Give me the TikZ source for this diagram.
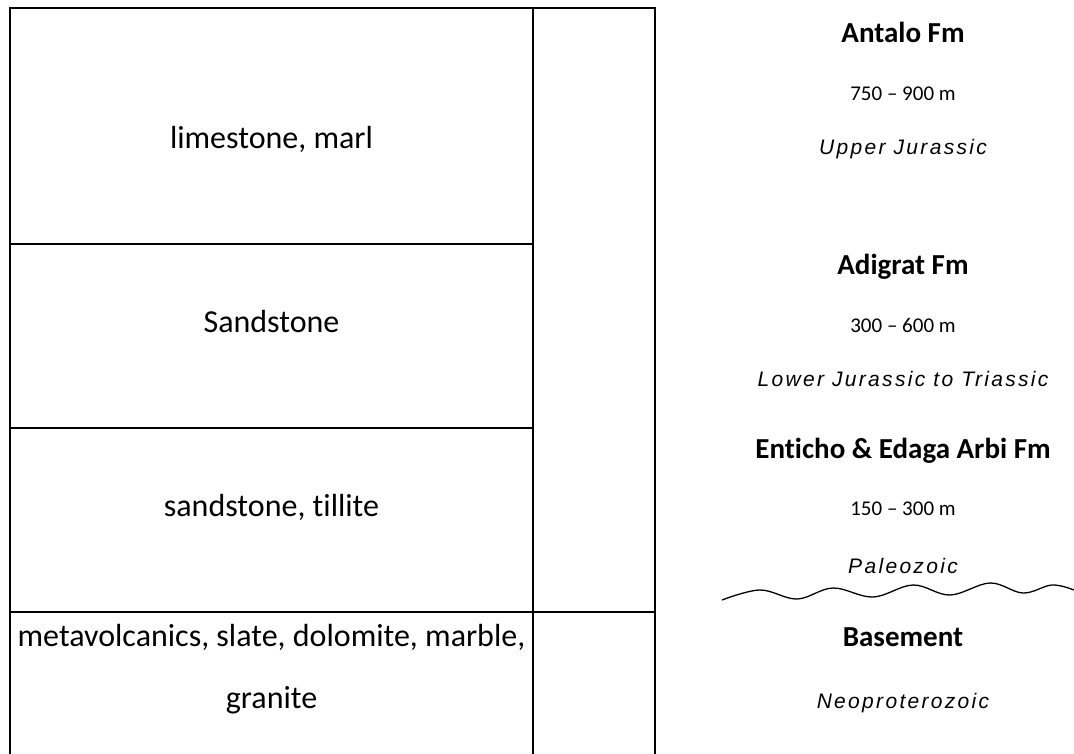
\documentclass[tikz,border=0pt]{standalone}
\usepackage{fontspec}
\setmainfont[Ligatures=NoCommon]{Carlito}
\newfontfamily\agefont[LetterSpace=11]{Liberation Sans}
\begin{document}
\begin{tikzpicture}[x=1pt,y=-1pt,
  rule/.style={line width=2pt, line cap=rect},
  rock/.style={inner sep=0pt, anchor=base, font=\fontsize{32}{38}\selectfont},
  fmname/.style={inner sep=0pt, anchor=base, font=\fontsize{29}{35}\selectfont\bfseries},
  thick/.style={inner sep=0pt, anchor=base, font=\fontsize{21}{25}\selectfont},
  age/.style={inner sep=0pt, anchor=base, font=\agefont\itshape\fontsize{21}{25}\selectfont},
  wave/.style={line width=1.3pt}]
\useasboundingbox (0,0) rectangle (1074,753);
% table frame
\draw[rule] (10,753) -- (10,7.5) -- (655,7.5) -- (655,753);
\draw[rule] (533,7.5) -- (533,753);
\draw[rule] (10,244) -- (533,244);
\draw[rule] (10,428) -- (533,428);
\draw[rule] (10,612) -- (655,612);
% lithology
\node[rock] (l1) at (271.5,148) {limestone, marl};
\node[rock] (l2) at (271.5,332) {Sandstone};
\node[rock] (l3) at (271.5,516) {sandstone, tillite};
\node[rock] (l4a) at (271.5,646) {metavolcanics, slate, dolomite, marble,};
\node[rock] (l4b) at (271.5,708) {granite};
% formations
\node[fmname] (f1) at (903,42) {Antalo Fm};
\node[thick] (t1) at (903,100) {750 – 900 m};
\node[age] (a1) at (903,154) {Upper Jurassic};
\node[fmname] (f2) at (903,274) {Adigrat Fm};
\node[thick] (t2) at (903,332) {300 – 600 m};
\node[age] (a2) at (903,386) {Lower Jurassic to Triassic};
\node[fmname] (f3) at (903,458) {Enticho \& Edaga Arbi Fm};
\node[thick] (t3) at (903,515) {150 – 300 m};
\node[age] (a3) at (903,573) {Paleozoic};
\node[fmname] (f4) at (903,646) {Basement};
\node[age] (a4) at (903,708) {Neoproterozoic};
% unconformity
\draw[wave] plot[smooth, tension=0.6] coordinates {(722,600) (760,590) (797,599) (833,588) (873,597) (913,585) (950,595) (990,583) (1023,593) (1052,585) (1074,590)};
\end{tikzpicture}
\end{document}
